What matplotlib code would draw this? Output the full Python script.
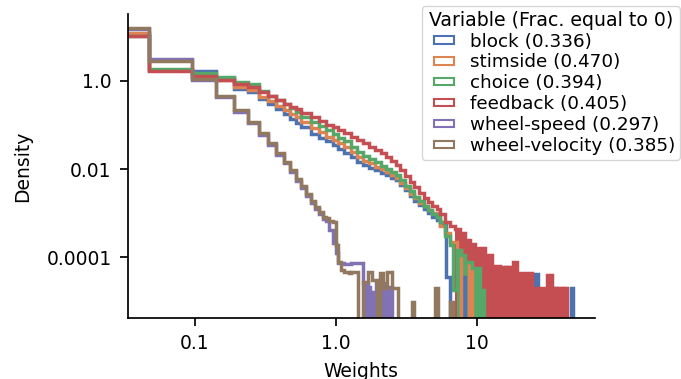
import numpy as np
import matplotlib
matplotlib.use('Agg')
import matplotlib.pyplot as plt
import matplotlib.patches as mpatches
from matplotlib.legend_handler import HandlerPatch
from matplotlib.ticker import NullLocator

# histogram bins: width 0.0475 near zero, merged into wider bins further out
main_edges = [0.0, 0.0475, 0.095, 0.1425, 0.19, 0.2375, 0.285, 0.3325, 0.38, 0.4275,
              0.475, 0.5225, 0.57, 0.665, 0.76, 0.855, 0.95, 1.045, 1.14, 1.2825,
              1.425, 1.5675, 1.71, 1.9, 2.09, 2.28, 2.47, 2.66, 2.85, 3.1,
              3.35, 3.6, 3.9, 4.2, 4.5, 4.85, 5.2, 5.5]
wheel_edges = [0.0, 0.0475, 0.095, 0.1425, 0.19, 0.2375, 0.285, 0.3325, 0.38, 0.4275,
               0.475, 0.5225, 0.57, 0.6175, 0.665, 0.7125, 0.76, 0.8075, 0.855, 0.9025,
               0.95, 0.9975, 1.045, 1.0925, 1.14, 1.1875, 1.235, 1.2825, 1.33]

# densities
block_main = [11.0, 1.73, 1.71, 1.14, 0.659, 0.548, 0.391, 0.301, 0.232, 0.179,
              0.141, 0.112, 0.0882, 0.0629, 0.0510, 0.0425, 0.0345, 0.0287, 0.0239, 0.0189,
              0.0146, 0.0125, 0.0109, 0.00959, 0.0082, 0.0072, 0.00648, 0.00569, 0.0045, 0.00338,
              0.00253, 0.00195, 0.00154, 0.00125, 0.00102, 0.000846, 0.000705]
stimside_main = [12.1, 1.78, 1.23, 1.05, 0.731, 0.609, 0.434, 0.343, 0.271, 0.220,
                 0.183, 0.153, 0.117, 0.0860, 0.0680, 0.0551, 0.0448, 0.0383, 0.0311, 0.0245,
                 0.0189, 0.0157, 0.0135, 0.0115, 0.00985, 0.00842, 0.00739, 0.00648, 0.00499, 0.00375,
                 0.00281, 0.00217, 0.00171, 0.00143, 0.00119, 0.00102, 0.000891]
choice_main = [10.5, 1.84, 1.54, 1.21, 0.949, 0.833, 0.593, 0.457, 0.371, 0.301,
               0.244, 0.198, 0.149, 0.115, 0.0930, 0.0754, 0.0629, 0.0523, 0.0425, 0.0327,
               0.0245, 0.0199, 0.0166, 0.0142, 0.0118, 0.00985, 0.00865, 0.00720, 0.00569, 0.00427,
               0.00320, 0.00240, 0.00190, 0.00150, 0.00119, 0.000964, 0.000824]
feedback_main = [10.5, 1.64, 1.30, 1.05, 0.855, 0.731, 0.548, 0.445, 0.361, 0.301,
                 0.257, 0.226, 0.188, 0.149, 0.124, 0.103, 0.0882, 0.0774, 0.0662, 0.0551,
                 0.0459, 0.0393, 0.0327, 0.0272, 0.0227, 0.0189, 0.0153, 0.0125, 0.00935, 0.00701,
                 0.00526, 0.00385, 0.00289, 0.00228, 0.00185, 0.00150, 0.00128]
speed_main = [15.1, 3.07, 1.03, 0.434, 0.203, 0.112, 0.0597, 0.0354, 0.0210, 0.0138,
              0.00865, 0.00554, 0.00375, 0.00247, 0.00171, 0.00125, 0.000964, 0.000743, 0.000669, 0.000418,
              0.000212, 0.000126, 7.47e-5, 7.47e-5, 7.08e-5, 7.08e-5, 7.08e-5, 7.47e-5]
velocity_main = [15.7, 2.77, 1.09, 0.457, 0.220, 0.119, 0.0652, 0.0386, 0.0229, 0.0148,
                 0.00959, 0.00600, 0.00416, 0.00274, 0.00190, 0.00139, 0.00107, 0.000824, 0.000782, 0.000669,
                 0.000635, 0.000191, 7.87e-5, 5.18e-5, 4.67e-5, 4.67e-5, 4.43e-5, 4.67e-5]

# sparse tails (zeros = empty bins)
block_tail_edges = [5.5, 6.1, 6.5, 8.0, 8.26, 15.9, 16.6, 26.0, 27.0, 36.0, 37.2, 46.5, 48.5]
block_tail = [0.000543, 3.6e-5, 0, 3.6e-5, 0, 6.05e-5, 0, 4.2e-5, 0, 2.02e-5, 0, 2.02e-5]
stimside_tail_edges = [5.5, 6.0, 6.5, 7.2, 7.7, 8.8, 9.3, 19.3, 19.9, 40.3, 41.6]
stimside_tail = [0.000515, 0.000357, 0.000223, 0.000147, 0, 6.73e-5, 0, 3.99e-5, 0, 2.02e-5]
choice_tail_edges = [5.5, 6.0, 6.5, 6.8, 7.25, 7.7, 8.3, 9.2, 10.5, 11.3]
choice_tail = [0.000635, 0.000306, 0.000191, 1.82e-5, 0.000147, 0.000113, 7.87e-5, 5.75e-5, 1.82e-5]
feedback_tail_edges = [5.5, 6.0, 6.5, 7.0, 7.6, 8.3, 9.0, 9.8, 10.6, 11.1,
                       11.5, 12.8, 14.6, 18.1, 19.3, 24.7, 31.5, 34.2, 35.9, 43.7]
feedback_tail = [0.000964, 0.000635, 0.000515, 0.000441, 0.000357, 0.000248, 0.000201, 0.000163, 0.000147,
                 0.000163, 0.000113, 6.38e-5, 6.05e-5, 7.87e-5, 4.43e-5, 2.02e-5, 3.99e-5, 0, 2.02e-5]
speed_tail_edges = [1.33, 1.55, 1.70, 1.75, 1.93, 2.24, 2.51]
speed_tail = [7.47e-5, 2.63e-5, 2.13e-5, 1.64e-5, 2.63e-5, 2.13e-5]
velocity_tail_edges = [1.33, 1.43, 1.55, 1.69, 1.82, 1.97, 2.05, 2.17, 2.33, 2.52,
                       2.78, 3.45, 3.6, 5.1, 5.35, 6.5, 6.75]
velocity_tail = [4.67e-5, 0, 2.77e-5, 4.67e-5, 3.07e-5, 0, 4.43e-5, 2.02e-5, 4.67e-5,
                 2.02e-5, 0, 9.75e-6, 0, 2.02e-5, 0, 9.75e-6]

variables = ['block', 'stimside', 'choice', 'feedback', 'wheel-speed', 'wheel-velocity']
frac_zero = [0.336, 0.470, 0.394, 0.405, 0.297, 0.385]

series = {
    'block': (main_edges + block_tail_edges[1:], block_main + block_tail),
    'stimside': (main_edges + stimside_tail_edges[1:], stimside_main + stimside_tail),
    'choice': (main_edges + choice_tail_edges[1:], choice_main + choice_tail),
    'feedback': (main_edges + feedback_tail_edges[1:], feedback_main + feedback_tail),
    'wheel-speed': (wheel_edges + speed_tail_edges[1:], speed_main + speed_tail),
    'wheel-velocity': (wheel_edges + velocity_tail_edges[1:], velocity_main + velocity_tail),
}

# dense parts of the tails look solid in the original
dense = [('feedback', 7.0, 11.1, 0.8), ('choice', 7.25, 11.3, 0.9),
         ('feedback', 11.1, 43.7, 1.5), ('wheel-speed', 1.55, 2.51, 2.35)]

colors = ['#4C72B0', '#DD8452', '#55A868', '#C44E52', '#8172B3', '#937860']
line_z = [1.0, 1.1, 2.2, 2.3, 2.4, 2.5]
col = dict(zip(variables, colors))


class InsetRect(HandlerPatch):
    # outline box drawn in the right part of the handle area
    def create_artists(self, legend, orig_handle, xdescent, ydescent,
                       width, height, fontsize, trans):
        off = 0.286 * width
        p = mpatches.Rectangle((-xdescent + off, -ydescent), width - off, height,
                               facecolor='none', edgecolor=orig_handle.get_edgecolor(),
                               lw=orig_handle.get_linewidth(), transform=trans)
        return [p]


FS = 13.5
plt.rcParams['font.family'] = 'DejaVu Sans'
fig = plt.figure(figsize=(6.81, 3.79), dpi=100)
ax = fig.add_axes([0.1875, 0.1617, 0.6862, 0.8014])
ax.set_xscale('log')
ax.set_yscale('log')

for name, lo, hi, z in dense:
    e = np.asarray(series[name][0])
    v = np.asarray(series[name][1])
    i0 = np.searchsorted(e, lo - 1e-9)
    i1 = np.searchsorted(e, hi - 1e-9)
    ax.stairs(v[i0:i1], e[i0:i1 + 1], fill=True, color=col[name], lw=0,
              baseline=1e-9, zorder=z)

for name, z in zip(variables, line_z):
    e, v = series[name]
    ax.stairs(v, e, color=col[name], lw=2.5, zorder=z)

ax.set_xlim(0.0335, 69)
ax.set_ylim(4.3e-6, 33)
ax.set_xticks([0.1, 1, 10])
ax.set_xticklabels(['0.1', '1.0', '10'])
ax.set_yticks([1e-4, 1e-2, 1])
ax.set_yticklabels(['0.0001', '0.01', '1.0'])
ax.xaxis.set_minor_locator(NullLocator())
ax.yaxis.set_minor_locator(NullLocator())
ax.tick_params(axis='both', labelsize=FS, length=6, width=1.25)
ax.tick_params(axis='y', pad=5.5)
ax.tick_params(axis='x', pad=6)
for s in ['top', 'right']:
    ax.spines[s].set_visible(False)
for s in ['left', 'bottom']:
    ax.spines[s].set_linewidth(1.25)

ax.set_xlabel('Weights', fontsize=FS, labelpad=6)
ax.set_ylabel('Density', fontsize=FS, labelpad=10)

handles = [mpatches.Patch(facecolor='none', edgecolor=c, linewidth=1.5,
                          label='%s (%.3f)' % (n, f))
           for n, f, c in zip(variables, frac_zero, colors)]
ax.legend(handles=handles, title='Variable (Frac. equal to 0)', loc='upper right',
          bbox_to_anchor=(1.182, 1.0263), borderaxespad=0, fontsize=13.2, title_fontsize=13.6,
          handlelength=1.53, handleheight=0.25, labelspacing=0.16, handletextpad=0.86,
          borderpad=0.25, handler_map={mpatches.Patch: InsetRect()})

fig.savefig('out.png', dpi=100)
